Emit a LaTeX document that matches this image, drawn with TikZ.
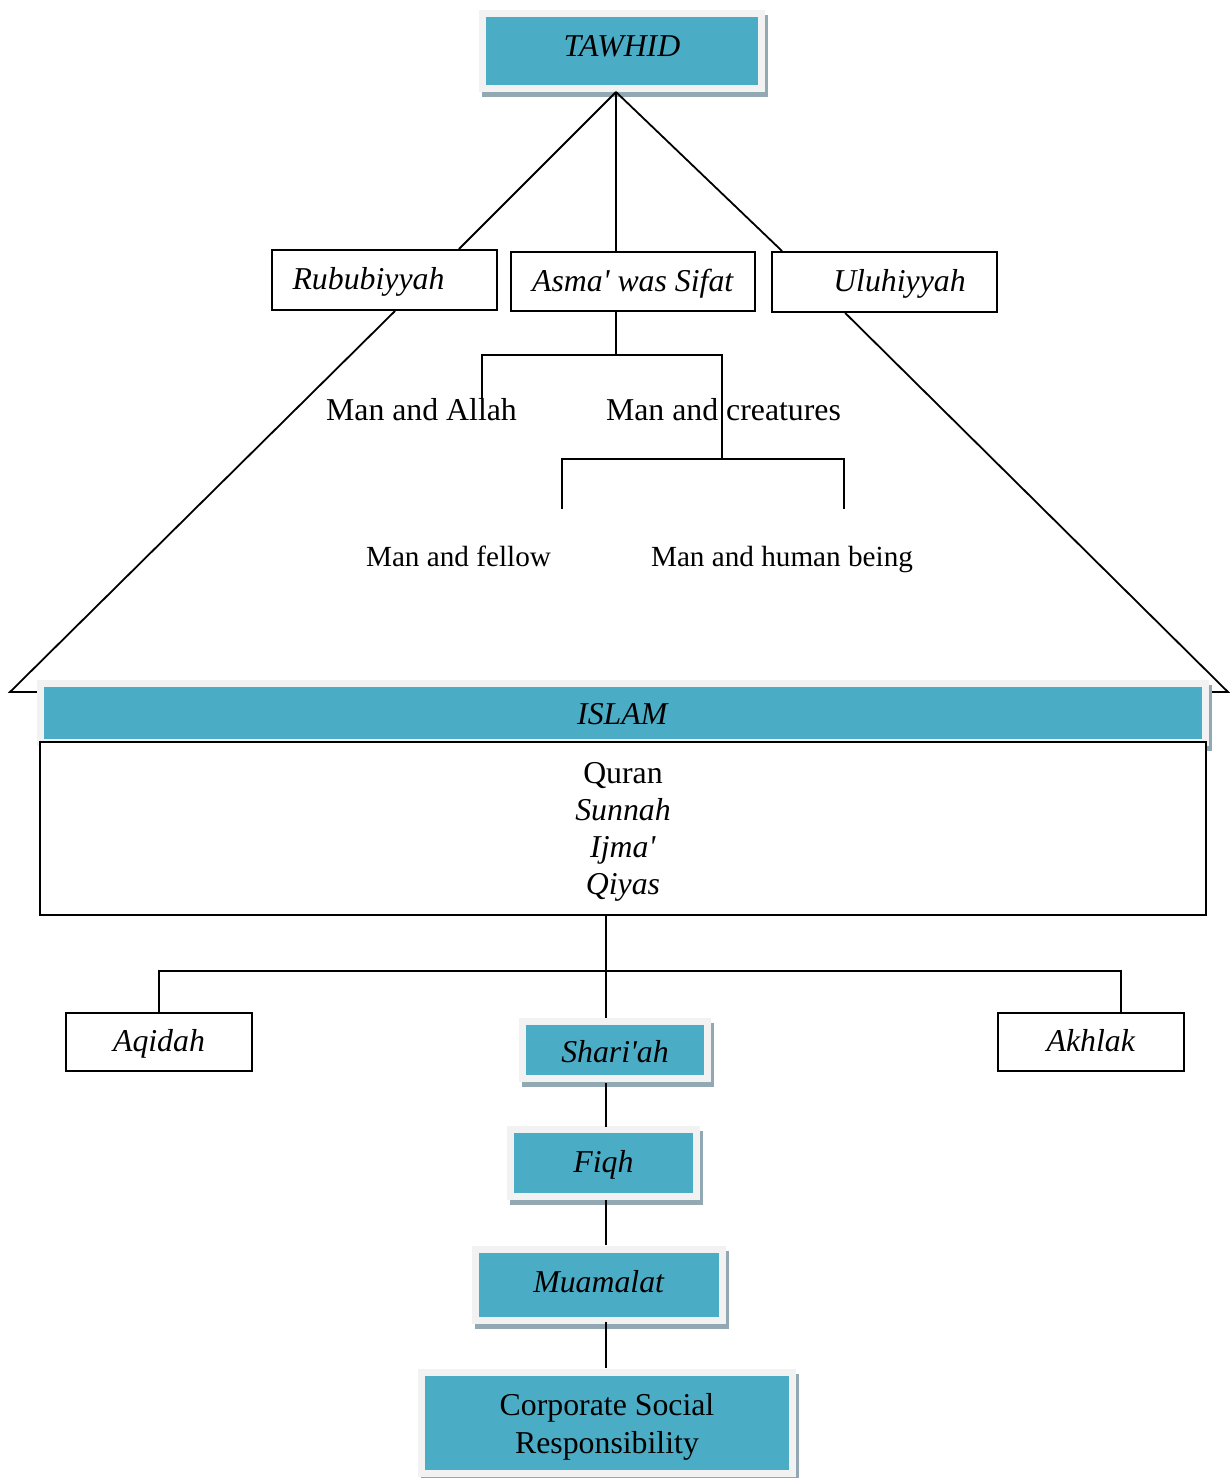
\documentclass[tikz,border=0pt]{standalone}
\usepackage{fontspec}
\setmainfont{Liberation Serif}
\usetikzlibrary{backgrounds}

\definecolor{tealfill}{RGB}{75,172,198}
\definecolor{framegray}{RGB}{242,242,242}
\definecolor{shadowgray}{RGB}{146,168,178}

\newcommand\bigfont{\fontsize{31.8}{37}\selectfont}
\newcommand\smallfont{\fontsize{29.2}{35}\selectfont}
\newcommand\q{\textquotesingle}

\tikzset{
  conn/.style={line width=1.8pt, black},
  plainbox/.style={draw, line width=1.8pt, fill=white, inner sep=0pt, font=\bigfont},
  tealbox/.style={fill=tealfill, inner sep=0pt, font=\bigfont},
  oneline/.style={text height=24pt, text depth=5pt},
  lbl/.style={inner sep=0pt, anchor=base, font=\bigfont},
  smalllbl/.style={inner sep=0pt, anchor=base, font=\smallfont},
}

\begin{document}
\begin{tikzpicture}[x=1pt, y=-1pt]
\useasboundingbox (0,0) rectangle (1230,1478);

% --- top level ---
\node[tealbox, oneline, minimum width=272pt, minimum height=68pt] (tawhid) at (622,51) {\raisebox{4pt}{\textit{TAWHID}}};
\coordinate (apex) at (616,92);

\node[plainbox, oneline, minimum width=225pt, minimum height=60pt] (rub) at (384.5,280) {\hspace*{-32pt}\textit{Rububiyyah}};
\node[plainbox, oneline, minimum width=244pt, minimum height=59pt] (asma) at (633,281.5) {\textit{Asma\q{} was Sifat}};
\node[plainbox, oneline, minimum width=225pt, minimum height=60pt] (ulu) at (884.5,282) {\textit{Uluhiyyah}\hspace*{-30pt}};

% --- relationships ---
\node[lbl] (mAllah) at (421.5,420) {Man and Allah};
\node[lbl] (mCreat) at (723.5,420) {Man and creatures};
\node[smalllbl] (mFellow) at (458.5,566) {Man and fellow};
\node[smalllbl] (mHuman) at (782,566) {Man and human being};

\coordinate (fork1) at (616,355);
\coordinate (fa) at (482,355);
\coordinate (fc) at (722,355);
\coordinate (fork2) at (722,459);
\coordinate (ff) at (562,459);
\coordinate (fh) at (844,459);
\coordinate (ffe) at (562,509);
\coordinate (fhe) at (844,509);

% --- ISLAM and sources ---
\node[tealbox, oneline, minimum width=1158pt, minimum height=52pt] (islam) at (623,713) {\raisebox{-2pt}{\textit{ISLAM}}};
\node[plainbox, minimum width=1166pt, minimum height=173pt, align=center] (box) at (623,828.5)
  {\rule{0pt}{28pt}Quran\\\textit{Sunnah}\\\textit{Ijma\q}\\\textit{Qiyas}};

\coordinate (tl) at (10,692);
\coordinate (tr) at (1228,692);

% --- lower branches ---
\node[plainbox, oneline, minimum width=186pt, minimum height=58pt] (aqidah) at (159,1042) {\textit{Aqidah}};
\node[plainbox, oneline, minimum width=186pt, minimum height=58pt] (akhlak) at (1091,1042) {\textit{Akhlak}};
\node[tealbox, oneline, minimum width=178pt, minimum height=50pt] (shariah) at (615,1050) {\raisebox{-3pt}{\textit{Shari\q ah}}};
\node[tealbox, oneline, minimum width=179pt, minimum height=60pt] (fiqh) at (603.5,1163) {\textit{Fiqh}};
\node[tealbox, oneline, minimum width=240pt, minimum height=64pt] (muamalat) at (599,1285) {\raisebox{2pt}{\textit{Muamalat}}};
\node[tealbox, minimum width=364pt, minimum height=94pt, align=center, font=\fontsize{31.8}{38}\selectfont] (csr) at (607,1423)
  {\rule{0pt}{30pt}Corporate Social\\Responsibility};

\coordinate (sp) at (606,0);
\coordinate (h1) at (1121,971);

% --- frames, shadows and the large triangle behind everything ---
\begin{scope}[on background layer]
  \draw[conn] ([xshift=124pt]rub.south west) -- (tl) -- (tr) -- ([xshift=74pt]ulu.south west);
  \foreach \n in {tawhid,islam,shariah,fiqh,muamalat,csr}{
    \fill[shadowgray] ([shift={(-4,-2)}]\n.north west) rectangle ([shift={(10,12)}]\n.south east);
    \fill[framegray] ([shift={(-7,-7)}]\n.north west) rectangle ([shift={(7,7)}]\n.south east);
  }
\end{scope}

% --- connectors ---
\draw[conn] (apex) -- ([xshift=-39pt]rub.north east);
\draw[conn] (apex) -- (apex |- asma.north);
\draw[conn] (apex) -- ([xshift=11pt]ulu.north west);

\draw[conn] (apex |- asma.south) -- (fork1);
\draw[conn] (fa |- mAllah.north) -- (fa) -- (fc) -- (fork2);
\draw[conn] (ffe) -- (ff) -- (fh) -- (fhe);

\draw[conn, shorten >=7pt] (sp |- box.south) -- (sp |- shariah.north);
\draw[conn] (aqidah.north) |- (h1) -- (h1 |- akhlak.north);
\draw[conn, shorten <=8pt, shorten >=6pt] (sp |- shariah.south) -- (sp |- fiqh.north);
\draw[conn, shorten <=7pt, shorten >=8pt] (sp |- fiqh.south) -- (sp |- muamalat.north);
\draw[conn, shorten <=5pt, shorten >=8pt] (sp |- muamalat.south) -- (sp |- csr.north);
\end{tikzpicture}
\end{document}
